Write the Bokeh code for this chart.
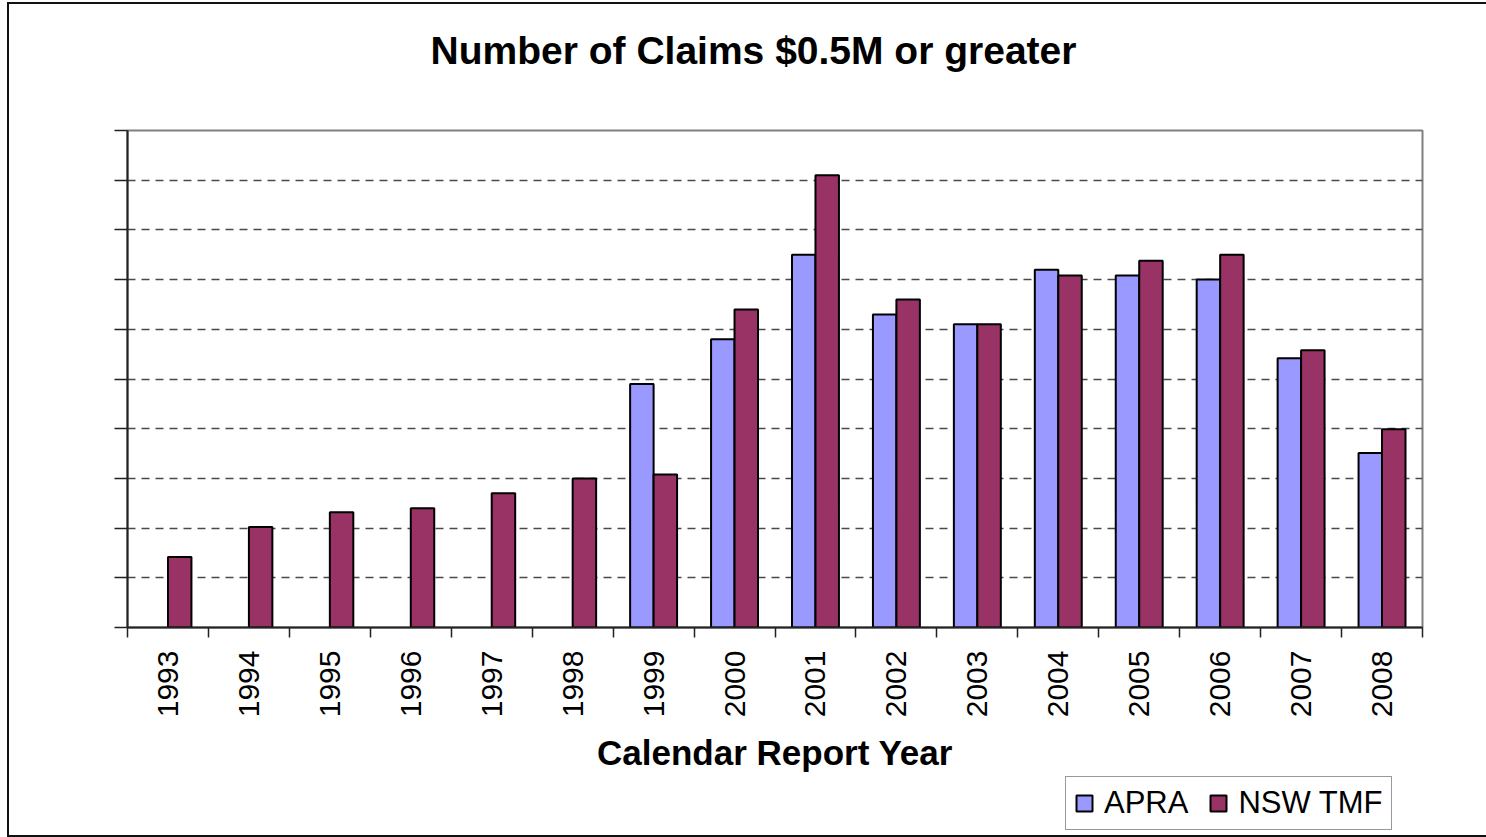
import math
from bokeh.plotting import figure
from bokeh.layouts import column
from bokeh.models import FixedTicker, Legend, LegendItem, Label
from bokeh.embed import file_html
from bokeh.resources import INLINE

years = ["1993", "1994", "1995", "1996", "1997", "1998", "1999", "2000",
         "2001", "2002", "2003", "2004", "2005", "2006", "2007", "2008"]
apra = [None, None, None, None, None, None, 4.9, 5.8, 7.5, 6.3, 6.1, 7.2, 7.08, 7.0, 5.42, 3.51]
nsw = [1.42, 2.02, 2.32, 2.4, 2.7, 3.0, 3.08, 6.4, 9.1, 6.6, 6.1, 7.08, 7.38, 7.5, 5.58, 3.99]
title_text = "Number of Claims $0.5M or greater"
x_label = "Calendar Report Year"
series_names = ["APRA", "NSW TMF"]

FONT = "Liberation Sans"
APRA_C = "#9999FF"
NSW_C = "#993366"
BW = 0.29
W = 1477


def blank_fig(h):
    f = figure(width=W, height=h, output_backend="svg", toolbar_location=None,
               x_range=(0, 1), y_range=(0, 1), x_axis_type=None, y_axis_type=None,
               min_border=0, min_border_left=0, min_border_right=0,
               min_border_top=0, min_border_bottom=0)
    f.outline_line_color = None
    f.xgrid.grid_line_color = None
    f.ygrid.grid_line_color = None
    f.background_fill_color = "white"
    f.border_fill_color = "white"
    return f


# ---- title strip
tf = blank_fig(98)
tf.add_layout(Label(x=626, y=52, x_units="screen", y_units="screen", text=title_text,
                    text_font=FONT, text_font_size="39px", text_font_style="bold",
                    text_align="center", text_baseline="alphabetic", text_color="black"))

# ---- main chart
p = figure(width=W, height=673, output_backend="svg", toolbar_location=None,
           x_range=(0, len(years)), y_range=(0, 10),
           min_border_left=118, min_border_right=64, min_border_top=28, min_border_bottom=146)
p.background_fill_color = "white"
p.border_fill_color = "white"
p.outline_line_color = "#808080"
p.outline_line_width = 2

ax = [i + 0.5 - BW / 2 for i, v in enumerate(apra) if v is not None]
av = [v for v in apra if v is not None]
nx = [i + 0.5 + BW / 2 for i in range(len(years))]

p.vbar(x=ax, top=av, width=BW, bottom=0, fill_color=APRA_C, line_color="black", line_width=2)
p.vbar(x=nx, top=nsw, width=BW, bottom=0, fill_color=NSW_C, line_color="black", line_width=2)

p.xgrid.grid_line_color = None
p.ygrid.ticker = FixedTicker(ticks=list(range(1, 10)))
p.ygrid.grid_line_color = "#4a4a4a"
p.ygrid.grid_line_dash = "8 6"
p.ygrid.grid_line_width = 1.5

p.yaxis.ticker = FixedTicker(ticks=list(range(0, 11)))
p.yaxis.major_label_overrides = {i: "" for i in range(0, 11)}
p.yaxis.major_tick_out = 13
p.yaxis.major_tick_in = 0
p.yaxis.minor_tick_line_color = None
p.yaxis.axis_line_color = "#222222"
p.yaxis.axis_line_width = 2
p.yaxis.major_tick_line_color = "#222222"
p.yaxis.major_tick_line_width = 1.5

p.xaxis.ticker = FixedTicker(ticks=[i + 0.5 for i in range(len(years))],
                             minor_ticks=list(range(0, len(years) + 1)))
p.xaxis.major_label_overrides = {i + 0.5: y for i, y in enumerate(years)}
p.xaxis.major_label_orientation = math.pi / 2
p.xaxis.major_tick_out = 0
p.xaxis.major_tick_in = 0
p.xaxis.minor_tick_out = 10
p.xaxis.minor_tick_in = 0
p.xaxis.minor_tick_line_color = "#222222"
p.xaxis.minor_tick_line_width = 1.5
p.xaxis.axis_line_color = "#222222"
p.xaxis.axis_line_width = 2
p.xaxis.major_label_standoff = 13
p.xaxis.major_label_text_font = FONT
p.xaxis.major_label_text_font_size = "30px"
p.xaxis.major_label_text_color = "black"
p.xaxis.axis_label = x_label
p.xaxis.axis_label_text_font = FONT
p.xaxis.axis_label_text_font_size = "35px"
p.xaxis.axis_label_text_font_style = "bold"
p.xaxis.axis_label_text_color = "black"
p.xaxis.axis_label_standoff = 13

# ---- legend strip
nan = float("nan")
lf = blank_fig(60)
la = lf.vbar(x=[0.5], top=[nan], bottom=[nan], width=0.1, fill_color=APRA_C,
             line_color="black", line_width=2)
ln = lf.vbar(x=[0.5], top=[nan], bottom=[nan], width=0.1, fill_color=NSW_C,
             line_color="black", line_width=2)
legend = Legend(items=[LegendItem(label=series_names[0], renderers=[la]),
                       LegendItem(label=series_names[1], renderers=[ln])],
                orientation="horizontal", location=(938, 5),
                label_text_font=FONT, label_text_font_size="31px", label_text_color="black",
                glyph_width=20, glyph_height=20, spacing=20,
                border_line_color="#333333", border_line_width=1.5,
                padding=8, margin=0, label_standoff=10)
lf.add_layout(legend, "center")

layout = column(tf, p, lf, spacing=0)
layout.styles = {"border": "2px solid #111111", "margin-left": "7px", "margin-top": "2px",
                 "background-color": "white"}

open("out.html", "w").write(file_html(layout, INLINE))
